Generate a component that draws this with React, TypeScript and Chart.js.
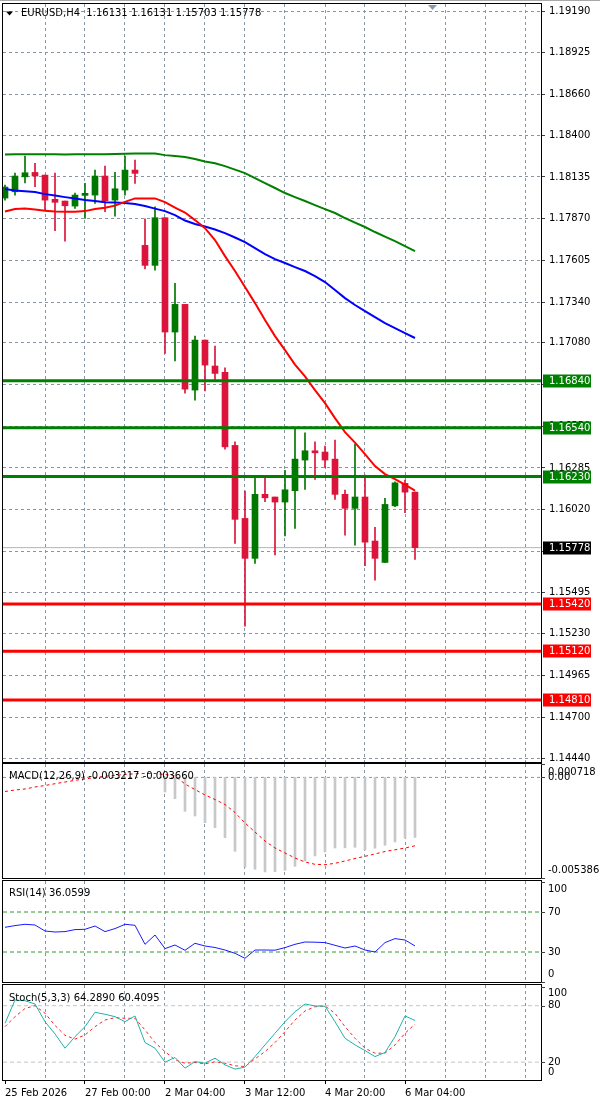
import React, { useEffect, useRef } from "react";
import { Chart, registerables } from "chart.js";

Chart.register(...registerables);

// ---------------- data ----------------
const OPEN = [
  1.18001, 1.18041, 1.18136, 1.18164, 1.18147, 1.17993, 1.17982, 1.1795, 1.18018, 1.1802,
  1.18141, 1.17988, 1.18052, 1.18179, 1.177, 1.17573, 1.17876, 1.17149, 1.17325, 1.1678,
  1.17098, 1.16933, 1.16893, 1.16428, 1.15964, 1.1571, 1.16117, 1.161, 1.16068, 1.1614,
  1.16335, 1.16394, 1.16386, 1.16341, 1.16117, 1.16028, 1.161, 1.1582, 1.15684, 1.16044,
  1.16187, 1.16131,
];
const HIGH = [
  1.18084, 1.1816, 1.18268, 1.18222, 1.18147, 1.1816, 1.17982, 1.18033, 1.18094, 1.18179,
  1.18204, 1.18164, 1.18268, 1.18243, 1.17869, 1.17946, 1.17876, 1.17458, 1.17325, 1.17123,
  1.17098, 1.1706, 1.16922, 1.16451, 1.16138, 1.16225, 1.16235, 1.161, 1.16269, 1.1653,
  1.16508, 1.16451, 1.16424, 1.16462, 1.16144, 1.16437, 1.16239, 1.15907, 1.16091, 1.16197,
  1.16208, 1.16131,
];
const LOW = [
  1.17988, 1.1802, 1.18098, 1.18073, 1.17925, 1.17793, 1.17727, 1.17935, 1.17872, 1.17967,
  1.17914, 1.17886, 1.1802, 1.18094, 1.17551, 1.17543, 1.17013, 1.16966, 1.16761, 1.16716,
  1.16774, 1.16839, 1.16405, 1.15805, 1.15279, 1.15678, 1.1607, 1.15731, 1.15852, 1.15901,
  1.16149, 1.16212, 1.16286, 1.16085, 1.15858, 1.15794, 1.15663, 1.15572, 1.15682, 1.16038,
  1.16, 1.15703,
];
const CLOSE = [
  1.18071, 1.18141, 1.18162, 1.18141, 1.17988, 1.17974, 1.17952, 1.1802, 1.18031, 1.18141,
  1.17984, 1.1806, 1.18179, 1.18158, 1.17573, 1.17876, 1.17149, 1.17325, 1.16786, 1.17098,
  1.16939, 1.16886, 1.16419, 1.15958, 1.1571, 1.16117, 1.16095, 1.16068, 1.16146, 1.16341,
  1.16394, 1.16381, 1.16335, 1.16117, 1.16028, 1.161, 1.15813, 1.1571, 1.16053, 1.1619,
  1.16131, 1.15778,
];
const MA_SLOW = [
  1.18278, 1.18279, 1.18279, 1.1828, 1.18279, 1.18279, 1.18278, 1.18279, 1.18279, 1.1828,
  1.1828, 1.18281, 1.18283, 1.18285, 1.18285, 1.18284, 1.18274, 1.18268, 1.18262, 1.18249,
  1.18234, 1.18222, 1.18204, 1.18182, 1.1816, 1.18128, 1.18096, 1.18065, 1.18033, 1.18007,
  1.17982, 1.17956, 1.17931, 1.17906, 1.17874, 1.17845, 1.17817, 1.17785, 1.17756, 1.17727,
  1.17696, 1.17664,
];
const MA_MID = [
  1.18058, 1.18049, 1.18045, 1.18039, 1.18026, 1.18017, 1.18007, 1.17998, 1.17988, 1.17982,
  1.17975, 1.17972, 1.17969, 1.17963, 1.1795, 1.17934, 1.17918, 1.17893, 1.17858, 1.17836,
  1.1782, 1.17801, 1.17778, 1.1775, 1.17721, 1.17683, 1.17645, 1.17613, 1.17588, 1.17562,
  1.17537, 1.17505, 1.17467, 1.17416, 1.17365, 1.17321, 1.17282, 1.17244, 1.17206, 1.17174,
  1.17142, 1.17111,
];
const MA_FAST = [
  1.17915, 1.17931, 1.17934, 1.17928, 1.17921, 1.17915, 1.17914, 1.17914, 1.17918, 1.17931,
  1.1794, 1.17953, 1.17977, 1.17999, 1.17999, 1.17999, 1.17975, 1.1794, 1.17909, 1.17861,
  1.1781, 1.17734, 1.17632, 1.17537, 1.17435, 1.17333, 1.17225, 1.17123, 1.17034, 1.16942,
  1.16867, 1.1678, 1.16697, 1.16602, 1.16513, 1.16446, 1.16373, 1.16297, 1.16246, 1.16214,
  1.16179, 1.1614,
];
const RESISTANCE = [1.1684, 1.1654, 1.1623];
const SUPPORT = [1.1542, 1.1512, 1.1481];
const LAST_PRICE = 1.15778;
const PRICE_TICKS = [
  1.1444, 1.147, 1.14965, 1.1523, 1.15495, 1.15755, 1.1602, 1.16285, 1.1655, 1.16815,
  1.1708, 1.1734, 1.17605, 1.1787, 1.18135, 1.184, 1.1866, 1.18925, 1.1919,
];
const MACD_MAIN = [
  null, null, null, null, null, null, null, null, null, null,
  null, null, null, null, null, null, -0.000782, -0.00114, -0.001815, -0.002067,
  -0.002425, -0.002693, -0.003228, -0.003957, -0.004813, -0.00492, -0.00506, -0.00505, -0.004974, -0.00476,
  -0.004476, -0.004208, -0.003994, -0.00378, -0.00377, -0.003742, -0.003887, -0.00379, -0.003635, -0.003459,
  -0.003245, -0.003217,
];
const MACD_SIGNAL = [
  -0.000755, -0.000675, -0.000621, -0.000514, -0.000434, -0.000337, -0.000246, -0.000155, -0.000086, -0.000005,
  0.000064, 0.000112, 0.000161, 0.000193, 0.000214, 0.000209, 0.000155, 0.000075, -0.000353, -0.000648,
  -0.000942, -0.001183, -0.001451, -0.001879, -0.002441, -0.002923, -0.003405, -0.00378, -0.004048, -0.004315,
  -0.004529, -0.004653, -0.004674, -0.004599, -0.004476, -0.004342, -0.004224, -0.004101, -0.003967, -0.003876,
  -0.00378, -0.00366,
];
const MACD_TICKS = [0.000718, 0, -0.005386];
const MACD_TICK_TEXT = ["0.000718", "0.00", "-0.005386"];
const RSI_VALUES = [
  54.7, 56.4, 57.7, 57.0, 51.0, 50.0, 50.4, 52.4, 52.7, 56.0,
  50.4, 53.4, 57.7, 56.7, 37.7, 47.0, 33.4, 37.0, 31.7, 38.7,
  36.0, 34.5, 32.0, 28.7, 23.7, 32.0, 32.0, 31.8, 34.4, 37.7,
  40.0, 39.8, 39.4, 36.7, 34.0, 36.0, 32.0, 30.0, 39.4, 43.4,
  42.0, 36.06,
];
const RSI_LEVELS = [70, 30];
const RSI_TICKS = [100, 70, 30, 0];
const STOCH_K = [
  61.3, 86.0, 85.3, 81.8, 63.0, 50.0, 34.8, 47.1, 57.7, 73.0,
  70.9, 68.3, 63.0, 69.1, 40.8, 34.8, 20.0, 24.9, 13.6, 20.6,
  18.9, 24.2, 17.1, 12.6, 14.7, 25.9, 38.3, 50.7, 63.0, 73.6,
  81.8, 79.7, 79.4, 63.0, 45.4, 38.3, 32.3, 25.9, 30.2, 47.1,
  69.1, 64.29,
];
const STOCH_D = [
  57.7, 68.3, 77.0, 80.0, 72.0, 59.0, 48.5, 44.4, 48.9, 57.7,
  64.8, 67.3, 66.6, 66.6, 54.2, 40.8, 31.2, 22.4, 18.9, 19.6,
  18.2, 20.3, 18.9, 16.1, 15.3, 23.5, 31.2, 40.8, 52.4, 64.8,
  74.4, 78.9, 79.7, 71.9, 57.7, 45.4, 34.8, 29.5, 29.5, 38.3,
  50.7, 60.41,
];
const STOCH_LEVELS = [80, 20];
const STOCH_TICKS = [100, 80, 20, 0];
const GRID_IDX = [0, 4, 8, 12, 16, 20, 24, 28, 32, 36, 40, 44, 48, 52];
const TIME_IDX = [0, 8, 16, 24, 32, 40];
const TIME_LABELS = ["25 Feb 2026", "27 Feb 00:00", "2 Mar 04:00", "3 Mar 12:00", "4 Mar 20:00", "6 Mar 04:00"];
const HEADER = "EURUSD,H4  1.16131 1.16131 1.15703 1.15778";
const MACD_TITLE = "MACD(12,26,9) -0.003217 -0.003660";
const RSI_TITLE = "RSI(14) 36.0599";
const STOCH_TITLE = "Stoch(5,3,3) 64.2890 60.4095";

// ---------------- style ----------------
const FAMILY = "DejaVu Sans";
const FONT = `10px "${FAMILY}"`;
const GRID_COLOR = "#8895a3";
const BULL = "#007800";
const BEAR = "#dc143c";
const X_MIN = -0.2;
const X_MAX = 53.6;
const CLEAR = "rgba(0,0,0,0)";

type Deco = {
  title: string;
  titleDy: number;
  triangle?: boolean;
  labels?: { value: number; text: string }[];
  boxes?: { value: number; text: string; bg: string }[];
  topChrome?: boolean;
};

function decoPlugin(d: Deco) {
  return {
    id: "deco",
    afterDraw(chart: any) {
      const { ctx, chartArea: a } = chart;
      const ys = chart.scales.y;
      ctx.save();
      if (d.topChrome) {
        ctx.fillStyle = "#a8a8a8";
        ctx.fillRect(0, 0, 600, 1);
        // chart shift marker
        ctx.fillStyle = "#8a9aab";
        ctx.beginPath();
        ctx.moveTo(428, a.top + 1);
        ctx.lineTo(437, a.top + 1);
        ctx.lineTo(432.5, a.top + 6);
        ctx.closePath();
        ctx.fill();
      }
      ctx.strokeStyle = "#000";
      ctx.lineWidth = 1;
      ctx.strokeRect(a.left - 0.5, a.top - 0.5, a.right - a.left + 1, a.bottom - a.top + 1);
      ctx.font = FONT;
      ctx.textBaseline = "middle";
      ctx.textAlign = "left";
      let tx = a.left + 6;
      if (d.triangle) {
        ctx.fillStyle = "#000";
        ctx.beginPath();
        ctx.moveTo(a.left + 3, a.top + d.titleDy - 1.5);
        ctx.lineTo(a.left + 10, a.top + d.titleDy - 1.5);
        ctx.lineTo(a.left + 6.5, a.top + d.titleDy + 2.5);
        ctx.closePath();
        ctx.fill();
        tx = a.left + 18;
      }
      ctx.fillStyle = "#000";
      ctx.fillText(d.title, tx, a.top + d.titleDy);
      if (d.labels) {
        for (const l of d.labels) {
          const py = ys.getPixelForValue(l.value);
          if (py >= a.top && py <= a.bottom) {
            ctx.strokeStyle = "#404040";
            ctx.beginPath();
            ctx.moveTo(a.right, Math.round(py) + 0.5);
            ctx.lineTo(a.right + 4, Math.round(py) + 0.5);
            ctx.stroke();
          }
          const cy = Math.min(Math.max(py, a.top + 8.5), a.bottom - 7.5);
          ctx.fillStyle = "#000";
          ctx.fillText(l.text, a.right + 7, cy);
        }
      }
      if (d.boxes) {
        for (const b of d.boxes) {
          const py = Math.round(ys.getPixelForValue(b.value));
          ctx.fillStyle = b.bg;
          ctx.fillRect(a.right + 2, py - 6.5, 48, 13);
          ctx.fillStyle = "#fff";
          ctx.fillText(b.text, a.right + 8, py + 0.5);
        }
      }
      ctx.restore();
    },
  };
}

function xScale(withLabels: boolean) {
  return {
    type: "linear",
    min: X_MIN,
    max: X_MAX,
    offset: false,
    afterBuildTicks: (s: any) => {
      s.ticks = GRID_IDX.map((v) => ({ value: v }));
    },
    afterFit: (s: any) => {
      s.height = withLabels ? 21 : 0;
      s.paddingLeft = 0;
      s.paddingRight = 0;
    },
    grid: {
      offset: false,
      color: (c: any) => (c.tick && c.tick.value === 0 ? CLEAR : GRID_COLOR),
      lineWidth: 1,
      drawTicks: withLabels,
      tickLength: 4,
      tickColor: (c: any) => (c.tick && TIME_IDX.indexOf(c.tick.value) >= 0 ? "#000" : CLEAR),
    },
    border: { display: false, dash: [3, 3] },
    ticks: {
      display: withLabels,
      autoSkip: false,
      maxRotation: 0,
      minRotation: 0,
      align: "start",
      padding: 3,
      color: "#000",
      font: { family: FAMILY, size: 10 },
      callback: (v: any) => {
        const k = TIME_IDX.indexOf(Number(v));
        return k >= 0 ? TIME_LABELS[k] : "";
      },
    },
  };
}

function indicatorY(min: number, max: number) {
  return {
    type: "linear",
    position: "right",
    min,
    max,
    ticks: { display: false },
    grid: { display: false },
    border: { display: false },
    afterFit: (s: any) => {
      s.width = 59;
      s.paddingTop = 0;
      s.paddingBottom = 0;
    },
  };
}

const pts = (arr: (number | null)[]) => arr.map((v, i) => ({ x: i, y: v }));
const hline = (v: number) => [
  { x: X_MIN, y: v },
  { x: X_MAX, y: v },
];
const lineDs = (data: any[], color: string, width: number, order: number, dash: number[] = []) => ({
  type: "line",
  data,
  borderColor: color,
  borderWidth: width,
  borderDash: dash,
  pointRadius: 0,
  tension: 0,
  fill: false,
  spanGaps: true,
  order,
});

function makeConfig(datasets: any[], yScale: any, withTime: boolean, padBottom: number, deco: Deco) {
  return {
    type: "bar",
    data: { datasets },
    options: {
      animation: false,
      responsive: false,
      maintainAspectRatio: false,
      events: [],
      layout: { padding: { left: 3, right: 0, top: 4, bottom: padBottom } },
      plugins: { legend: { display: false }, tooltip: { enabled: false } },
      scales: { x: xScale(withTime), y: yScale },
    },
    plugins: [decoPlugin(deco)],
  };
}

function mainConfig() {
  const colors = CLOSE.map((c, i) => (c >= OPEN[i] ? BULL : BEAR));
  const wicks = LOW.map((l, i) => ({ x: i, y: [l, HIGH[i]] }));
  const bodies = OPEN.map((o, i) => ({ x: i, y: [Math.min(o, CLOSE[i]), Math.max(o, CLOSE[i])] }));
  const datasets: any[] = [
    lineDs(hline(LAST_PRICE), "#b4b4b4", 1, 20),
    {
      type: "bar",
      data: wicks,
      backgroundColor: colors,
      barThickness: 1,
      grouped: false,
      order: 19,
    },
    {
      type: "bar",
      data: bodies,
      backgroundColor: colors,
      barThickness: 6,
      grouped: false,
      minBarLength: 1,
      order: 18,
    },
    lineDs(pts(MA_SLOW), "#008000", 2, 12),
    lineDs(pts(MA_MID), "#0000ff", 2, 11),
    lineDs(pts(MA_FAST), "#ff0000", 2, 10),
    ...RESISTANCE.map((v) => lineDs(hline(v), "#008000", 3, 2)),
    ...SUPPORT.map((v) => lineDs(hline(v), "#ff0000", 3, 2)),
  ];
  const yScale = {
    type: "linear",
    position: "right",
    min: 1.14415,
    max: 1.19235,
    afterBuildTicks: (s: any) => {
      s.ticks = PRICE_TICKS.map((v) => ({ value: v }));
    },
    afterFit: (s: any) => {
      s.width = 59;
      s.paddingTop = 0;
      s.paddingBottom = 0;
    },
    grid: { color: GRID_COLOR, lineWidth: 1, drawTicks: true, tickLength: 4, tickColor: "#404040" },
    border: { display: false, dash: [3, 3] },
    ticks: {
      autoSkip: false,
      padding: 4,
      color: "#000",
      font: { family: FAMILY, size: 10 },
      callback: (v: any) => Number(v).toFixed(5),
    },
  };
  const boxes = [
    ...RESISTANCE.map((v) => ({ value: v, text: v.toFixed(5), bg: "#008000" })),
    { value: LAST_PRICE, text: LAST_PRICE.toFixed(5), bg: "#000000" },
    ...SUPPORT.map((v) => ({ value: v, text: v.toFixed(5), bg: "#ff0000" })),
  ];
  return makeConfig(datasets, yScale, false, 4, {
    title: HEADER,
    titleDy: 9,
    triangle: true,
    boxes,
    topChrome: true,
  });
}

function macdConfig() {
  const datasets: any[] = [
    lineDs(hline(0), GRID_COLOR, 1, 20, [3, 3]),
    {
      type: "bar",
      data: pts(MACD_MAIN),
      backgroundColor: "#c8c8c8",
      barThickness: 2,
      grouped: false,
      order: 10,
    },
    lineDs(pts(MACD_SIGNAL), "#ff0000", 1, 5, [3, 3]),
  ];
  return makeConfig(datasets, indicatorY(-0.005386, 0.000718), false, 4, {
    title: MACD_TITLE,
    titleDy: 12,
    labels: MACD_TICKS.map((v, i) => ({ value: v, text: MACD_TICK_TEXT[i] })),
  });
}

function rsiConfig() {
  const datasets: any[] = [
    ...RSI_LEVELS.map((v) => lineDs(hline(v), "#2e9a2e", 1, 20, [4, 3])),
    lineDs(pts(RSI_VALUES), "#1a1aff", 1, 5),
  ];
  return makeConfig(datasets, indicatorY(0, 101), false, 4, {
    title: RSI_TITLE,
    titleDy: 12,
    labels: RSI_TICKS.map((v) => ({ value: v, text: String(v) })),
  });
}

function stochConfig() {
  const datasets: any[] = [
    ...STOCH_LEVELS.map((v) => lineDs(hline(v), "#c4c4c4", 1, 20, [4, 3])),
    lineDs(pts(STOCH_D), "#ff2020", 1, 6, [3, 3]),
    lineDs(pts(STOCH_K), "#20b2aa", 1, 5),
  ];
  return makeConfig(datasets, indicatorY(1, 102), true, 0, {
    title: STOCH_TITLE,
    titleDy: 13,
    labels: STOCH_TICKS.map((v) => ({ value: v, text: String(v) })),
  });
}

function Panel({ top, height, build }: { top: number; height: number; build: () => any }) {
  const ref = useRef<HTMLCanvasElement | null>(null);
  useEffect(() => {
    if (!ref.current) return;
    const chart = new Chart(ref.current, build());
    return () => chart.destroy();
  }, []);
  return (
    <canvas
      ref={ref}
      width={600}
      height={height}
      style={{ position: "absolute", left: 0, top, width: 600, height, display: "block" }}
    />
  );
}

export default function App() {
  return (
    <div
      style={{
        position: "absolute",
        left: 0,
        top: 0,
        width: 600,
        height: 1101,
        background: "#ffffff",
        overflow: "hidden",
      }}
    >
      <Panel top={0} height={766} build={mainConfig} />
      <Panel top={760} height={122} build={macdConfig} />
      <Panel top={877} height={109} build={rsiConfig} />
      <Panel top={981} height={120} build={stochConfig} />
    </div>
  );
}
